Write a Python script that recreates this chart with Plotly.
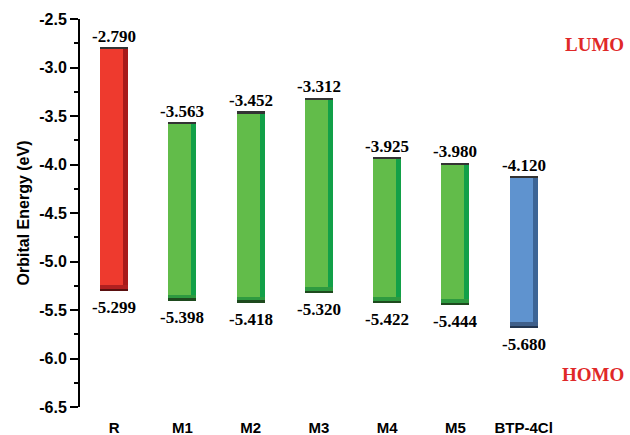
import plotly.graph_objects as go

categories = ["R", "M1", "M2", "M3", "M4", "M5", "BTP-4Cl"]
lumo = [-2.790, -3.563, -3.452, -3.312, -3.925, -3.980, -4.120]
homo = [-5.299, -5.398, -5.418, -5.320, -5.422, -5.444, -5.680]
face_colors = ["#EE3A2E", "#62BC4A", "#62BC4A", "#62BC4A", "#62BC4A", "#62BC4A", "#5F93CF"]
side_colors = ["#A81A1A", "#12A048", "#12A048", "#12A048", "#12A048", "#12A048", "#3D6596"]
bottom_colors = ["#B02020", "#2E9A40", "#2E9A40", "#2E9A40", "#2E9A40", "#2E9A40", "#3F5F8A"]
edge_colors = ["#5A1010", "#1E4A1E", "#1E4A1E", "#1E4A1E", "#1E4A1E", "#1E4A1E", "#223550"]
y_ticks = [-6.5, -6.0, -5.5, -5.0, -4.5, -4.0, -3.5, -3.0, -2.5]

heights = [l - h for l, h in zip(lumo, homo)]
bw = 0.41
side_w = 0.075
bevel = 0.055
edge = 0.018

fig = go.Figure()
# main face
fig.add_trace(go.Bar(x=categories, y=heights, base=homo, width=bw, offset=-bw / 2,
                     marker=dict(color=face_colors, line=dict(width=0)), hoverinfo="skip"))
# right darker side
fig.add_trace(go.Bar(x=categories, y=[h - bevel for h in heights], base=[b + bevel for b in homo],
                     width=side_w, offset=bw / 2 - side_w,
                     marker=dict(color=side_colors, line=dict(width=0)), hoverinfo="skip"))
# bottom bevel
fig.add_trace(go.Bar(x=categories, y=[bevel] * len(categories), base=homo, width=bw, offset=-bw / 2,
                     marker=dict(color=bottom_colors, line=dict(width=0)), hoverinfo="skip"))
# bottom dark edge
fig.add_trace(go.Bar(x=categories, y=[edge] * len(categories), base=homo, width=bw, offset=-bw / 2,
                     marker=dict(color=edge_colors, line=dict(width=0)), hoverinfo="skip"))
# top dark edge
fig.add_trace(go.Bar(x=categories, y=[edge] * len(categories), base=[l - edge for l in lumo],
                     width=bw, offset=-bw / 2,
                     marker=dict(color=["#333333"] * len(categories), line=dict(width=0)), hoverinfo="skip"))

label_font = dict(family="Liberation Serif", size=17, color="black")
for c, v in zip(categories, lumo):
    fig.add_annotation(x=c, y=v, text=f"<b>{v:.3f}</b>", showarrow=False, yshift=11,
                       font=label_font, xanchor="center", yanchor="middle")
for c, v in zip(categories, homo):
    fig.add_annotation(x=c, y=v, text=f"<b>{v:.3f}</b>", showarrow=False, yshift=-17,
                       font=label_font, xanchor="center", yanchor="middle")

fig.add_annotation(x=1.0, xref="paper", y=-2.76, yref="y", text="<b>LUMO</b>", showarrow=False,
                   font=dict(family="Liberation Serif", size=19, color="#E02828"), xanchor="right")
fig.add_annotation(x=1.0, xref="paper", y=-6.17, yref="y", text="<b>HOMO</b>", showarrow=False,
                   font=dict(family="Liberation Serif", size=19, color="#E02828"), xanchor="right")

fig.update_layout(
    width=630, height=435,
    margin=dict(l=80, r=4, t=19, b=28),
    paper_bgcolor="white", plot_bgcolor="white",
    barmode="overlay", showlegend=False,
    bargap=0,
    xaxis=dict(range=[-0.5, 7.5], showline=False, showgrid=False, zeroline=False,
               tickvals=list(range(len(categories))), ticktext=[f"<b>{c}</b>" for c in categories],
               ticks="", ticklabelstandoff=10, automargin=False,
               tickfont=dict(family="Liberation Sans", size=15, color="black")),
    yaxis=dict(range=[-6.5, -2.5], showline=True, linecolor="black", linewidth=2,
               showgrid=False, zeroline=False, automargin=False,
               tickvals=y_ticks, ticktext=[f"<b>{v:.1f}</b>" for v in y_ticks],
               ticks="outside", ticklen=8, tickwidth=2, tickcolor="black",
               minor=dict(dtick=0.25, ticks="outside", ticklen=4, tickwidth=2, tickcolor="black"),
               tickfont=dict(family="Liberation Sans", size=16, color="black"),
               title=dict(text="<b>Orbital Energy (eV)</b>", standoff=6,
                          font=dict(family="Liberation Sans", size=16, color="black"))),
)

fig.write_html("out.html", config={"displayModeBar": False},
               post_script="document.body.style.margin='0';document.body.style.overflow='hidden';")
